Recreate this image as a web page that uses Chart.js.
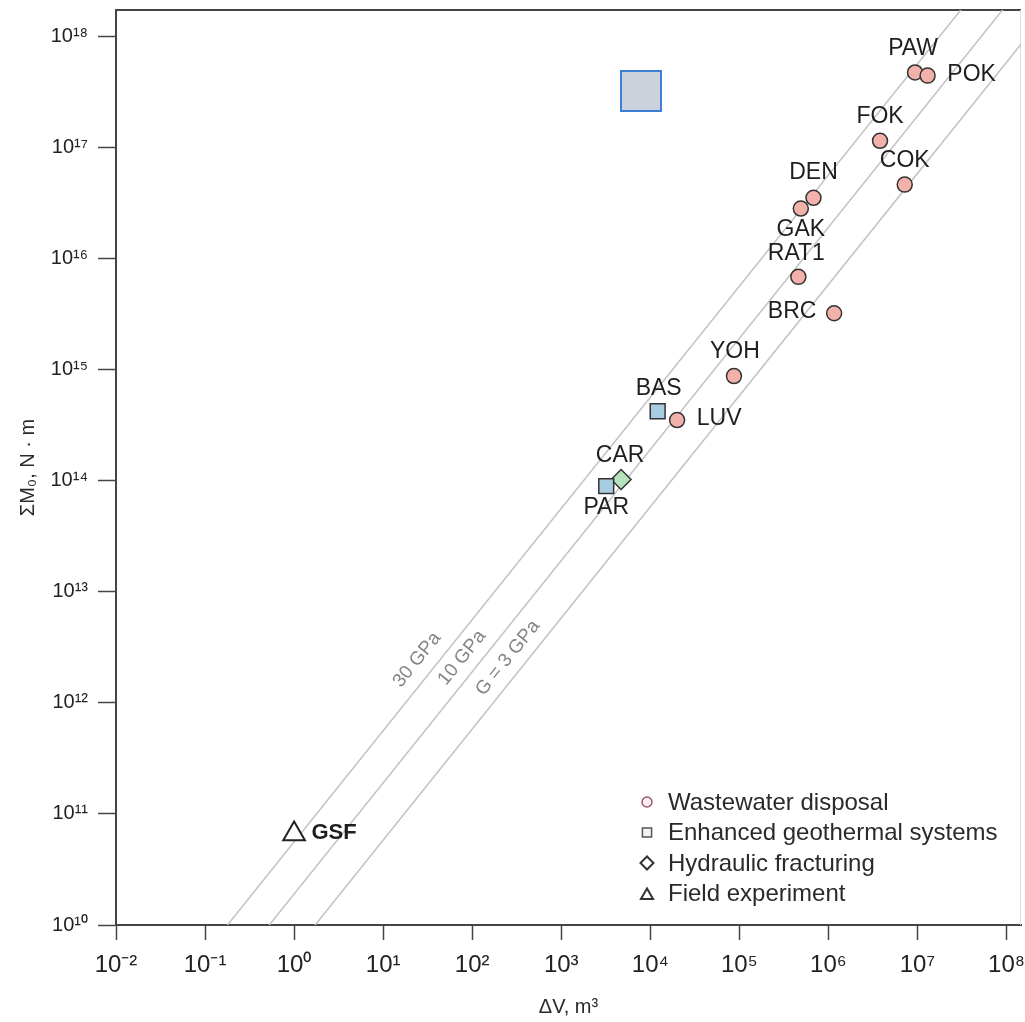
<!DOCTYPE html>
<html>
<head>
<meta charset="utf-8">
<script src="https://cdn.jsdelivr.net/npm/chart.js@4.4.0/dist/chart.umd.min.js"></script>
<style>
  html, body { margin: 0; padding: 0; background: #fff; overflow: hidden; }
  #wrap { width: 1025px; height: 1022px; position: relative; }
</style>
</head>
<body>
<div id="wrap"><canvas id="chart"></canvas></div>
<script>
// values: injected volume (m^3) and summed moment (N m)
const wastewaterSites = ['PAW', 'POK', 'FOK', 'COK', 'DEN', 'GAK', 'RAT1', 'BRC', 'YOH', 'LUV']
const wastewaterVolume = [9.4e6, 1.3e7, 3.8e6, 7.2e6, 6.8e5, 4.9e5, 4.6e5, 1.16e6, 8.7e4, 2.0e4]
const wastewaterMoment = [4.7e17, 4.4e17, 1.14e17, 4.6e16, 3.5e16, 2.8e16, 6.8e15, 3.2e15, 8.7e14, 3.5e14]

const geothermalSites = ['BAS', 'PAR']
const geothermalVolume = [1.21e4, 3.2e3]
const geothermalMoment = [4.2e14, 8.9e13]

const fracturingSites = ['CAR']
const fracturingVolume = [4.7e3]
const fracturingMoment = [1.02e14]

const fieldSites = ['GSF']
const fieldVolume = [1.0]
const fieldMoment = [6.6e10]

// reference lines (two end points each, clipped by the plot)
const gpa30Volume = [0.1, 1e8]
const gpa30Moment = [5.6e9, 5.6e18]
const gpa10Volume = [0.1, 1e8]
const gpa10Moment = [1.9e9, 1.9e18]
const gpa3Volume = [0.1, 1e9]
const gpa3Moment = [5.8e8, 5.8e18]

const xTickValues = [1e-2, 1e-1, 1e0, 1e1, 1e2, 1e3, 1e4, 1e5, 1e6, 1e7, 1e8]
const yTickValues = [1e10, 1e11, 1e12, 1e13, 1e14, 1e15, 1e16, 1e17, 1e18]

const legendNames = ['Wastewater disposal', 'Enhanced geothermal systems', 'Hydraulic fracturing', 'Field experiment']

// label placement relative to the marker centre (px)
const labelOffsets = {
    PAW: [-2, -24], POK: [44, -1], FOK: [0, -24], COK: [0, -24], DEN: [0, -25],
    GAK: [0, 21], RAT1: [-2, -23], BRC: [-42, -2], YOH: [1, -24], LUV: [42, -1],
    BAS: [1, -23], CAR: [-1, -24], PAR: [0, 22], GSF: [40, -1]
}
// where the G labels sit (data coords)
const lineLabels = [
    {text: '30 GPa', x: 24, y: 2.43e12},
    {text: '10 GPa', x: 77, y: 2.53e12},
    {text: 'G = 3 GPa', x: 252, y: 2.53e12}
]

const FONT = '"Liberation Sans", Arial, Helvetica, sans-serif'
Chart.defaults.font.family = FONT

const toPoints = (xs, ys) => xs.map((v, i) => ({x: v, y: ys[i]}))

const sup = {'-': '\u207B', '0': '\u2070', '1': '\u00B9', '2': '\u00B2', '3': '\u00B3', '4': '\u2074',
    '5': '\u2075', '6': '\u2076', '7': '\u2077', '8': '\u2078', '9': '\u2079'}
const powerLabel = (v) => '10' + String(Math.round(Math.log10(v))).split('').map(c => sup[c]).join('')

const legendMarkers = [
    {pointStyle: 'circle', radius: 5, fill: '#fbeff1', stroke: '#9a5a6c', width: 1.5},
    {pointStyle: 'rect', radius: 6.5, fill: '#f2f4f6', stroke: '#555', width: 1.5},
    {pointStyle: 'rectRot', radius: 6.5, fill: '#fff', stroke: '#333', width: 2},
    {pointStyle: 'triangle', radius: 7, fill: '#fff', stroke: '#333', width: 2}
]

const extrasPlugin = {
    id: 'extras',
    beforeDatasetsDraw(chart) {
        const {ctx, chartArea} = chart
        ctx.save()
        // top frame + faint right frame
        ctx.strokeStyle = '#444'
        ctx.lineWidth = 2
        ctx.beginPath()
        ctx.moveTo(chartArea.left, chartArea.top)
        ctx.lineTo(chartArea.right, chartArea.top)
        ctx.stroke()
        ctx.strokeStyle = '#dedede'
        ctx.lineWidth = 1
        ctx.beginPath()
        ctx.moveTo(chartArea.right - 0.5, chartArea.top)
        ctx.lineTo(chartArea.right - 0.5, chartArea.bottom)
        ctx.stroke()

        // G labels along the lines
        const xs = chart.scales.x, ys = chart.scales.y
        const dx = xs.getPixelForValue(10) - xs.getPixelForValue(1)
        const dy = ys.getPixelForValue(10) - ys.getPixelForValue(1)
        const angle = Math.atan2(dy, dx)
        ctx.fillStyle = '#858585'
        ctx.font = '19px ' + FONT
        ctx.textAlign = 'center'
        ctx.textBaseline = 'middle'
        lineLabels.forEach(l => {
            ctx.save()
            ctx.translate(xs.getPixelForValue(l.x), ys.getPixelForValue(l.y))
            ctx.rotate(angle)
            ctx.fillText(l.text, 0, 0)
            ctx.restore()
        })
        ctx.restore()
    },
    afterDatasetsDraw(chart) {
        const ctx = chart.ctx
        ctx.save()
        ctx.fillStyle = '#1e1e1e'
        ctx.textAlign = 'center'
        ctx.textBaseline = 'middle'
        chart.data.datasets.forEach((ds, di) => {
            if (!ds.siteNames) return
            const meta = chart.getDatasetMeta(di)
            meta.data.forEach((pt, i) => {
                const name = ds.siteNames[i]
                const off = labelOffsets[name] || [0, -24]
                ctx.font = (name === 'GSF' ? 'bold 22px ' : '23px ') + FONT
                ctx.fillText(name, pt.x + off[0], pt.y + off[1])
            })
        })

        // legend, bottom right inside the plot
        const lx = 647, ly = 802, gap = 30.5
        ctx.textAlign = 'left'
        ctx.font = '24px ' + FONT
        legendNames.forEach((name, i) => {
            const m = legendMarkers[i]
            ctx.fillStyle = m.fill
            ctx.strokeStyle = m.stroke
            ctx.lineWidth = m.width
            Chart.helpers.drawPoint(ctx, {pointStyle: m.pointStyle, radius: m.radius, rotation: 0, borderWidth: m.width}, lx, ly + i * gap + (m.pointStyle === 'triangle' ? 2 : 0))
            ctx.fillStyle = '#2a2a2a'
            ctx.fillText(name, lx + 21, ly + i * gap + 1)
        })

        // stray grey box in the upper part of the figure
        ctx.fillStyle = '#ccd2db'
        ctx.strokeStyle = '#3d7fd6'
        ctx.lineWidth = 2
        ctx.fillRect(621, 71, 40, 40)
        ctx.strokeRect(621, 71, 40, 40)
        ctx.restore()
    }
}

const gLine = (label, xs, ys) => ({
    label: label,
    data: toPoints(xs, ys),
    showLine: true,
    borderColor: '#c2c2c2',
    borderWidth: 1.5,
    pointRadius: 0,
    fill: false
})

new Chart(document.getElementById('chart'), {
    type: 'scatter',
    data: {
        datasets: [
            {
                label: legendNames[0], siteNames: wastewaterSites,
                data: toPoints(wastewaterVolume, wastewaterMoment),
                pointStyle: 'circle', pointRadius: 7.5,
                backgroundColor: '#f3b1ab', borderColor: '#333', borderWidth: 1.5
            },
            {
                label: legendNames[1], siteNames: geothermalSites,
                data: toPoints(geothermalVolume, geothermalMoment),
                pointStyle: 'rect', pointRadius: 10.5,
                backgroundColor: '#a8cde2', borderColor: '#333', borderWidth: 1.5
            },
            {
                label: legendNames[2], siteNames: fracturingSites,
                data: toPoints(fracturingVolume, fracturingMoment),
                pointStyle: 'rectRot', pointRadius: 10,
                backgroundColor: '#b6e2bd', borderColor: '#333', borderWidth: 1.5
            },
            {
                label: legendNames[3], siteNames: fieldSites,
                data: toPoints(fieldVolume, fieldMoment),
                pointStyle: 'triangle', pointRadius: 12.5,
                backgroundColor: '#fff', borderColor: '#222', borderWidth: 2
            },
            gLine('30 GPa', gpa30Volume, gpa30Moment),
            gLine('10 GPa', gpa10Volume, gpa10Moment),
            gLine('3 GPa', gpa3Volume, gpa3Moment)
        ]
    },
    options: {
        responsive: true,
        maintainAspectRatio: false,
        animation: false,
        layout: {autoPadding: false, padding: {top: 10, right: 4, left: 0, bottom: 0}},
        plugins: {
            legend: {display: false},
            tooltip: {enabled: false}
        },
        scales: {
            x: {
                type: 'logarithmic',
                min: 1e-2,
                max: Math.pow(10, 8.163),
                afterBuildTicks: (s) => { s.ticks = xTickValues.map(v => ({value: v})) },
                afterFit: (s) => { s.height = 97; s.paddingLeft = 0; s.paddingRight = 0 },
                grid: {drawOnChartArea: false, tickLength: 15, tickColor: '#444', tickWidth: 1.5},
                border: {color: '#444', width: 2},
                ticks: {
                    autoSkip: false, maxRotation: 0, padding: 11,
                    color: '#222', font: {size: 24},
                    callback: (v) => powerLabel(v)
                },
                title: {display: true, text: '\u0394V, m\u00B3', color: '#2a2a2a', font: {size: 20}, padding: {top: 0, bottom: 3}}
            },
            y: {
                type: 'logarithmic',
                min: 1e10,
                max: Math.pow(10, 18.234),
                afterBuildTicks: (s) => { s.ticks = yTickValues.map(v => ({value: v})) },
                afterFit: (s) => { s.width = 116; s.paddingTop = 0; s.paddingBottom = 0 },
                grid: {drawOnChartArea: false, tickLength: 18, tickColor: '#444', tickWidth: 1.5},
                border: {color: '#444', width: 2},
                ticks: {
                    autoSkip: false, padding: 10,
                    color: '#222', font: {size: 20},
                    callback: (v) => powerLabel(v)
                },
                title: {display: true, text: '\u03A3M\u2080, N \u00B7 m', color: '#2a2a2a', font: {size: 20}, padding: {top: 16, bottom: 0}}
            }
        }
    },
    plugins: [extrasPlugin]
})
</script>
</body>
</html>
